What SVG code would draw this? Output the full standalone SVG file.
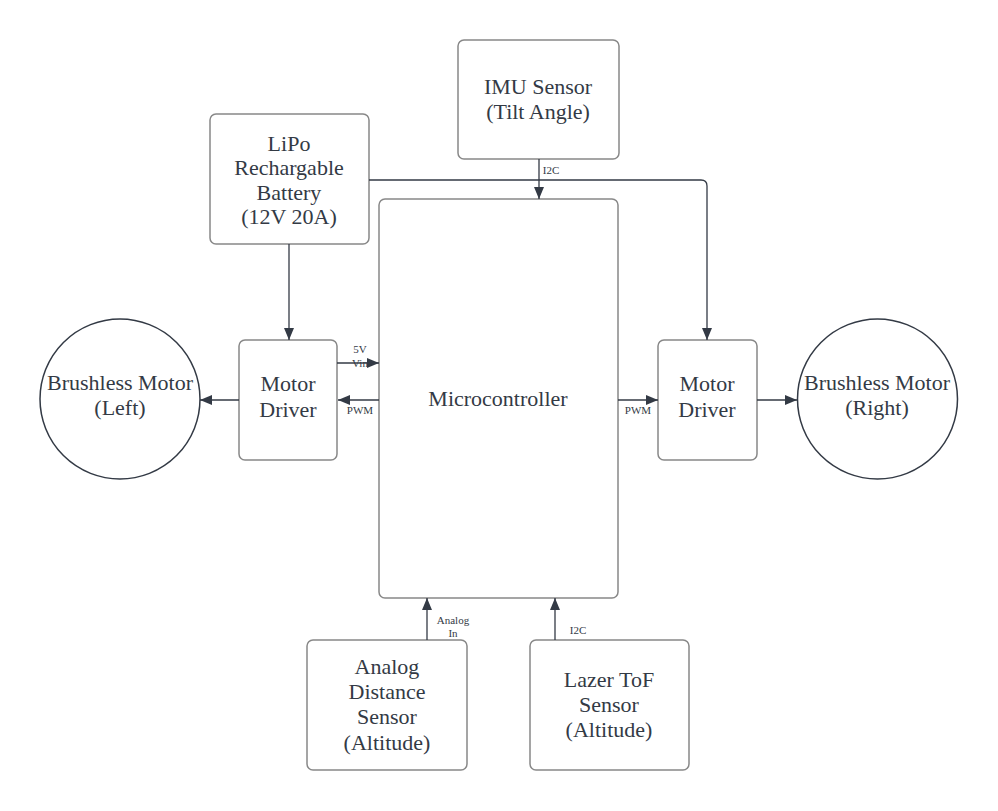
<svg xmlns="http://www.w3.org/2000/svg" width="998" height="811" viewBox="0 0 998 811">
<defs>
<marker id="ah" viewBox="0 0 12 10" refX="12" refY="5" markerWidth="12" markerHeight="10" markerUnits="userSpaceOnUse" orient="auto">
<path d="M0,0 L12,5 L0,10 Z" fill="#333a45"/>
</marker>
</defs>
<style>
.box{fill:#fff;stroke:#888;stroke-width:1.5}
.cir{fill:#fff;stroke:#333a45;stroke-width:1.5}
.t{font-family:"Liberation Serif",serif;font-size:22px;fill:#333a45;text-anchor:middle}
.s{font-family:"Liberation Serif",serif;font-size:11px;fill:#333a45;text-anchor:middle}
.c{fill:none;stroke:#333a45;stroke-width:1.3;marker-end:url(#ah)}
</style>
<rect width="998" height="811" fill="#fff"/>
<g id="imu"><rect class="box" x="458" y="40" width="161" height="119" rx="6"/>
<text class="t" x="538" y="94">IMU Sensor</text><text class="t" x="538" y="119">(Tilt Angle)</text></g>
<g id="lipo"><rect class="box" x="210" y="114" width="159" height="130" rx="6"/>
<text class="t" x="289" y="151">LiPo</text><text class="t" x="289" y="175">Rechargable</text><text class="t" x="289" y="200">Battery</text><text class="t" x="289" y="224">(12V 20A)</text></g>
<g id="mcu"><rect class="box" x="379" y="199" width="239" height="399" rx="6"/>
<text class="t" x="498" y="406">Microcontroller</text></g>
<g id="mdl"><rect class="box" x="239" y="340" width="98" height="120" rx="6"/>
<text class="t" x="288" y="391">Motor</text><text class="t" x="288" y="417">Driver</text></g>
<g id="mdr"><rect class="box" x="658" y="340" width="99" height="120" rx="6"/>
<text class="t" x="707" y="391">Motor</text><text class="t" x="707" y="417">Driver</text></g>
<g id="bml"><circle class="cir" cx="120" cy="399" r="80"/>
<text class="t" x="120" y="390">Brushless Motor</text><text class="t" x="120" y="415">(Left)</text></g>
<g id="bmr"><circle class="cir" cx="877.5" cy="399" r="80"/>
<text class="t" x="877" y="390">Brushless Motor</text><text class="t" x="877" y="415">(Right)</text></g>
<g id="ads"><rect class="box" x="307" y="640" width="160" height="130" rx="6"/>
<text class="t" x="387" y="674">Analog</text><text class="t" x="387" y="699">Distance</text><text class="t" x="387" y="724">Sensor</text><text class="t" x="387" y="750">(Altitude)</text></g>
<g id="tof"><rect class="box" x="530" y="640" width="159" height="130" rx="6"/>
<text class="t" x="609" y="687">Lazer ToF</text><text class="t" x="609" y="712">Sensor</text><text class="t" x="609" y="737">(Altitude)</text></g>
<g id="connectors">
<path class="c" d="M289,244 V340"/>
<path class="c" d="M369,180 H701 Q707,180 707,186 V340"/>
<path class="c" d="M539,159 V199"/>
<text class="s" x="551" y="174">I2C</text>
<text class="s" x="360" y="353">5V</text>
<text class="s" x="360" y="367">Vin</text>
<path class="c" d="M337,363 H379"/>
<path class="c" d="M379,400 H338"/>
<text class="s" x="360" y="414">PWM</text>
<path class="c" d="M618,400 H658"/>
<text class="s" x="638" y="414">PWM</text>
<path class="c" d="M239,400 H200"/>
<path class="c" d="M757,400 H797"/>
<path class="c" d="M427,640 V598"/>
<text class="s" x="453" y="624">Analog</text>
<text class="s" x="453" y="637">In</text>
<path class="c" d="M555,640 V598"/>
<text class="s" x="578" y="634">I2C</text>
</g>
</svg>
